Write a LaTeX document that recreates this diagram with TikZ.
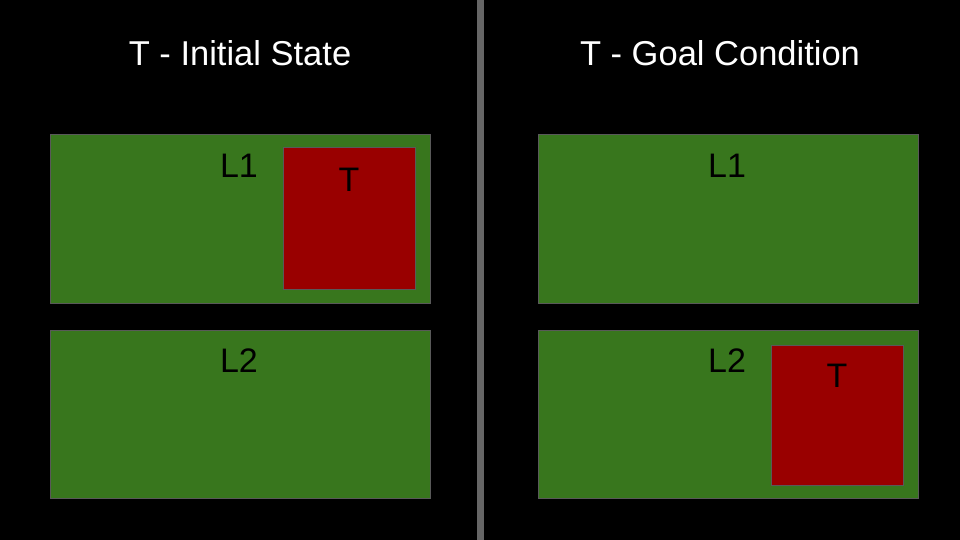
\documentclass[tikz,border=0pt]{standalone}
\usepackage{fontspec}
\setmainfont{Liberation Sans}
\definecolor{bggreen}{HTML}{38761D}
\definecolor{boxred}{HTML}{990000}
\definecolor{edgegray}{HTML}{595959}
\definecolor{divgray}{HTML}{666666}
\begin{document}
\begin{tikzpicture}[x=1pt,y=-1pt,
  loc/.style={draw=edgegray,line width=1pt,fill=bggreen,minimum width=380pt,minimum height=168pt,inner sep=0pt},
  obj/.style={draw=edgegray,line width=1pt,fill=boxred,minimum width=132pt,minimum height=140pt,inner sep=0pt},
  lbl/.style={font=\fontsize{34}{40}\selectfont,text=black,inner sep=0pt},
  ttl/.style={font=\fontsize{34.5}{40}\selectfont,text=white,inner sep=0pt}]
\fill[black] (0,0) rectangle (960,540);
\useasboundingbox (0,0) rectangle (960,540);
\fill[divgray] (477,0) rectangle (484,540);
\node[ttl] (t1) at (240,53) {T - Initial State};
\node[ttl] (t2) at (720,53) {T - Goal Condition};
\node[loc] (a1) at (240,219) {};
\node[loc] (a2) at (240,414) {};
\node[loc] (b1) at (728,219) {};
\node[loc] (b2) at (728,414) {};
\node[lbl] (la1) at (239,165.5) {L1};
\node[lbl] (la2) at (239,360.5) {L2};
\node[lbl] (lb1) at (727,165.5) {L1};
\node[lbl] (lb2) at (727,360.5) {L2};
\node[obj,minimum height=141pt] (ta) at (349,218.5) {};
\node[obj] (tb) at (837,415) {};
\node[lbl] (tta) at (349,179.5) {T};
\node[lbl] (ttb) at (837,375.5) {T};
\end{tikzpicture}
\end{document}
